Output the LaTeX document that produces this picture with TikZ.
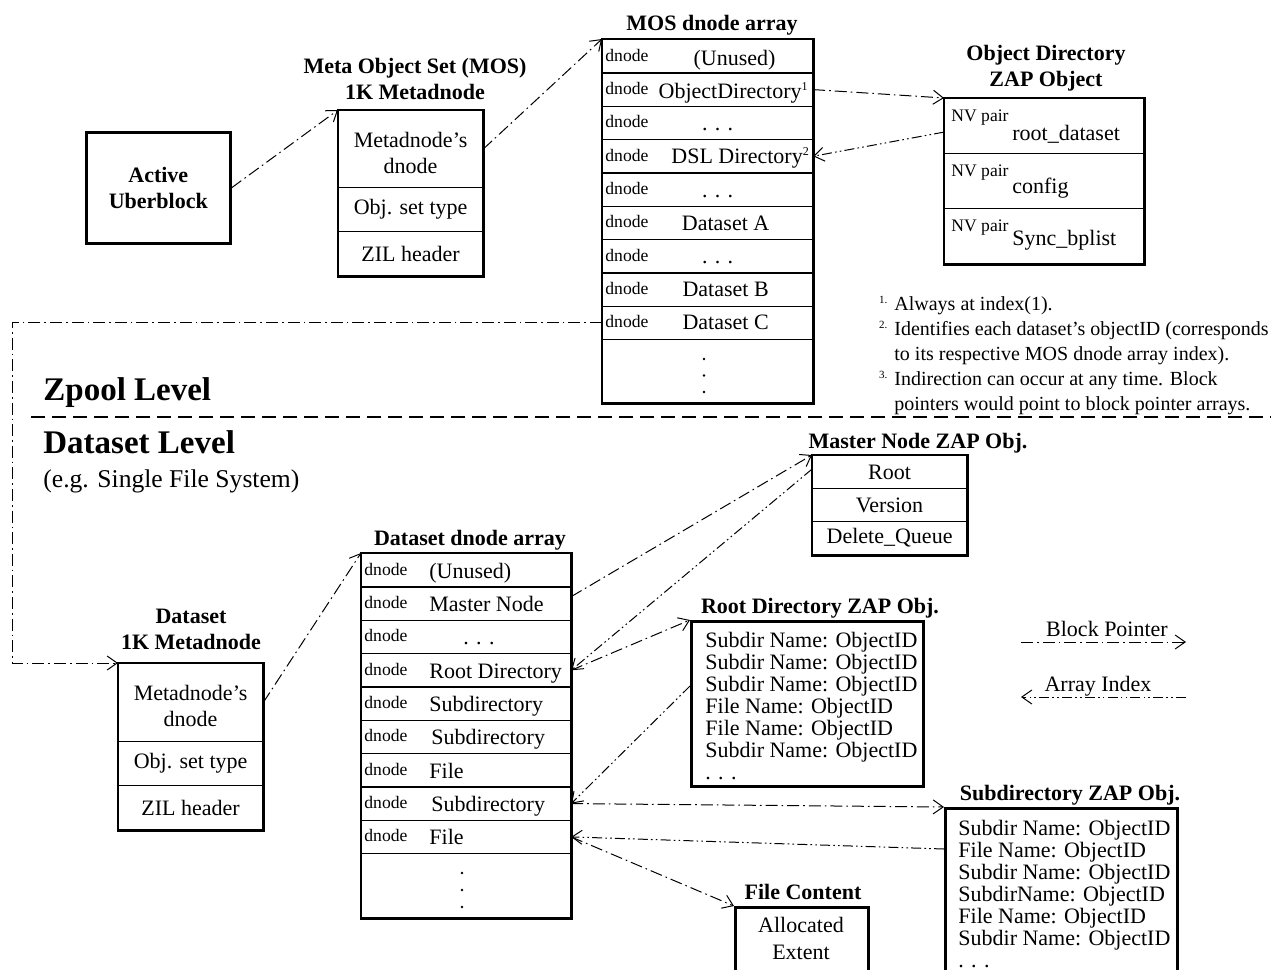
\documentclass[tikz,border=0pt]{standalone}
\usepackage{fontspec}
\setmainfont{Liberation Serif}
\usetikzlibrary{arrows.meta, positioning, calc}

\begin{document}
\begin{tikzpicture}[
  x=0.5pt, y=-0.5pt,
  font=\fontsize{11}{11}\selectfont,
  frame/.style={draw, line width=1.3pt},
  row/.style={draw, line width=0.6pt, anchor=north west, inner sep=0pt},
  ltxt/.style={anchor=base west, inner sep=0pt},
  dn/.style={ltxt, font=\fontsize{8.8}{9}\selectfont},
  txt/.style={anchor=base, inner sep=0pt},
  two/.style={align=center, inner sep=0pt, font=\fontsize{11}{13}\selectfont},
  ttl/.style={font=\fontsize{11}{13}\selectfont\bfseries, align=center, anchor=base, inner sep=0pt},
  lst/.style={align=left, anchor=north west, inner sep=0pt},
  lvl/.style={font=\fontsize{16.5}{18}\selectfont\bfseries, anchor=base west, inner sep=0pt},
  divider/.style={line width=1pt, dash pattern=on 7pt off 3.5pt},
  bptr/.style={line width=0.5pt, dash pattern=on 6pt off 2pt on 0.8pt off 2pt,
    -{Straight Barb[length=5pt, width=7pt]}},
  aidx/.style={line width=0.5pt, dash pattern=on 5pt off 1.6pt on 0.8pt off 1.6pt on 0.8pt off 1.6pt,
    -{Straight Barb[length=5pt, width=7pt]}}
]
  \useasboundingbox (0,0) rectangle (1271,970);
  \clip (0,0) rectangle (1271,970);

  % Zpool level
  \node[frame, anchor=north west, minimum width=72pt, minimum height=55.5pt, align=center,
    font=\fontsize{11}{13}\selectfont\bfseries] (ub) at (85,131) {Active\\Uberblock};

  \node[ttl, anchor=north] (mmt) at (415,58) {Meta Object Set (MOS)\\1K Metadnode};
  \node[row, minimum width=72pt, minimum height=38.5pt] (mmeta1) at (338,110) {};
  \node[two] (mmetat) at ([yshift=-2pt]mmeta1.center) {Metadnode's\\dnode};
  \node[row, minimum width=72pt, minimum height=22pt] (mmeta2) at (338,187) {Obj. set type};
  \node[row, minimum width=72pt, minimum height=22pt] (mmeta3) at (338,231) {ZIL header};
  \draw[frame] (mmeta1.north west) rectangle (mmeta3.south east);

  \node[ttl] (mosat) at (712,30) {MOS dnode array};
  \foreach \i/\dx/\dy/\txt in {1/13.5/4.5/(Unused), 2/13/4.5/ObjectDirectory\textsuperscript{\fontsize{6}{6}\selectfont 1},
      3/5/3.75/. . ., 4/16.5/3.75/DSL Directory\textsuperscript{\fontsize{6}{6}\selectfont 2}, 5/5/3.75/. . .,
      6/9/3.75/Dataset A, 7/5/3.75/. . ., 8/9/3.25/Dataset B, 9/9/3.25/Dataset C} {
    \node[row, minimum width=105pt, minimum height=16.67pt] (mos\i) at (602,{39+(\i-1)*33.33}) {};
    \node[dn] (mosd\i) at ([xshift=1.5pt, yshift=-2.5pt]mos\i.west) {dnode};
    \node[txt] (most\i) at ([xshift=\dx pt, yshift=-\dy pt]mos\i.center) {\txt};
  }
  \node[row, minimum width=105pt, minimum height=31.5pt] (mos10) at (602,339) {};
  \foreach \k in {0,1,2}
    \fill (704,{359+\k*16.5}) circle (0.65pt);
  \draw[frame] (mos1.north west) rectangle (mos10.south east);

  \node[ttl, anchor=north] (odt) at (1046,45) {Object Directory\\ZAP Object};
  \foreach \i/\dy/\val in {1/21/root\_dataset, 2/20/config, 3/18.5/Sync\_bplist} {
    \node[row, minimum width=99.5pt, minimum height=27.5pt] (od\i) at (944,{98+(\i-1)*55}) {};
    \node[dn] (odn\i) at ([xshift=3.5pt, yshift=-11.5pt]od\i.north west) {NV pair};
    \node[ltxt] (odv\i) at ([xshift=34pt, yshift=-\dy pt]od\i.north west) {\val};
  }
  \draw[frame] (od1.north west) rectangle (od3.south east);

  \node[lst, font=\fontsize{10}{12.5}\selectfont] (notes) at (894,296)
    {\llap{\smash{\textsuperscript{\fontsize{5.5}{6}\selectfont 1.}}\hspace{3pt}}Always at index(1).\\
     \llap{\smash{\textsuperscript{\fontsize{5.5}{6}\selectfont 2.}}\hspace{3pt}}Identifies each dataset's objectID (corresponds\\
     to its respective MOS dnode array index).\\
     \llap{\smash{\textsuperscript{\fontsize{5.5}{6}\selectfont 3.}}\hspace{3pt}}Indirection can occur at any time. Block\\
     pointers would point to block pointer arrays.};

  % Levels
  \node[lvl] (zpool) at (43,400) {Zpool Level};
  \coordinate (divl) at (31,417);
  \coordinate (divr) at (1271,417);
  \draw[divider] (divl) -- (divr);
  \node[lvl] (dslvl) at (43,453) {Dataset Level};
  \node[ltxt, font=\fontsize{12.8}{14}\selectfont] (dssub) at (43,487) {(e.g. Single File System)};

  % Dataset level
  \node[ttl, anchor=north] (dmt) at (191,609) {Dataset\\1K Metadnode};
  \node[row, minimum width=72pt, minimum height=39pt] (dmeta1) at (118,663) {};
  \node[two] (dmetat) at ([yshift=-1.5pt]dmeta1.center) {Metadnode's\\dnode};
  \node[row, minimum width=72pt, minimum height=22pt] (dmeta2) at (118,741) {Obj. set type};
  \node[row, minimum width=72pt, minimum height=22pt] (dmeta3) at (118,785) {ZIL header};
  \draw[frame] (dmeta1.north west) rectangle (dmeta3.south east);

  \node[ttl] (dsat) at (470,545) {Dataset dnode array};
  \foreach \i/\dx/\txt in {1/34/(Unused), 2/34/Master Node, 3/51/. . ., 4/34/Root Directory,
      5/34/Subdirectory, 6/35/Subdirectory, 7/34/File, 8/35/Subdirectory, 9/34/File} {
    \node[row, minimum width=104.5pt, minimum height=16.67pt] (ds\i) at (361,{553+(\i-1)*33.33}) {};
    \node[dn] (dsd\i) at ([xshift=1.5pt, yshift=-2.5pt]ds\i.west) {dnode};
    \node[ltxt] (dst\i) at ([xshift=\dx pt, yshift=-4pt]ds\i.west) {\txt};
  }
  \node[row, minimum width=104.5pt, minimum height=32pt] (ds10) at (361,853) {};
  \foreach \k in {0,1,2}
    \fill (462,{873+\k*17}) circle (0.65pt);
  \draw[frame] (ds1.north west) rectangle (ds10.south east);

  \node[ttl] (mzt) at (918,448) {Master Node ZAP Obj.};
  \foreach \i/\txt in {1/Root, 2/Version, 3/Delete\_Queue}
    \node[row, minimum width=77pt, minimum height=16.5pt] (mz\i) at (812,{455+(\i-1)*33}) {\txt};
  \draw[frame] (mz1.north west) rectangle (mz3.south east);

  \node[ttl] (rdzt) at (820,613) {Root Directory ZAP Obj.};
  \node[frame, anchor=north west, minimum width=116pt, minimum height=82.5pt, inner sep=0pt] (rdz) at (690,620) {};
  \node[lst] (rdzl) at (705,632) {Subdir Name: ObjectID\\Subdir Name: ObjectID\\Subdir Name: ObjectID\\
    File Name: ObjectID\\File Name: ObjectID\\Subdir Name: ObjectID\\. . .};

  \node[ttl] (sdzt) at (1070,800) {Subdirectory ZAP Obj.};
  \node[frame, anchor=north west, minimum width=116pt, minimum height=100pt, inner sep=0pt] (sdz) at (944,807) {};
  \node[lst] (sdzl) at (958,820) {Subdir Name: ObjectID\\File Name: ObjectID\\Subdir Name: ObjectID\\
    SubdirName: ObjectID\\File Name: ObjectID\\Subdir Name: ObjectID\\. . .};

  \node[ttl] (fct) at (803,899) {File Content};
  \node[frame, anchor=north west, minimum width=66.5pt, minimum height=50pt, inner sep=0pt] (fc) at (734,906) {};
  \node[txt] (fca) at (801,932) {Allocated};
  \node[txt] (fcb) at (801,959) {Extent};

  % Legend
  \coordinate (bpa) at (1021,642);
  \coordinate (bpb) at (1186,642);
  \draw[bptr] (bpa) -- (bpb);
  \node[txt] (bpl) at (1107,636) {Block Pointer};
  \coordinate (aia) at (1021,697);
  \coordinate (aib) at (1186,697);
  \draw[aidx] (aib) -- (aia);
  \node[txt] (ail) at (1098,691) {Array Index};

  % Arrows
  \coordinate (dsbend) at (12,663);
  \draw[bptr] (ub.east) -- (mmeta1.north west);
  \draw[bptr] (mmeta1.east) -- (mos1.north west);
  \draw[bptr] (mos2.east) -- (od1.north west);
  \draw[aidx] ([yshift=-3pt]od1.west) -- (mos4.east);
  \draw[bptr] (mos9.west) -| (dsbend) -- (dmeta1.north west);
  \draw[bptr] (dmeta1.east) -- (ds1.north west);
  \draw[bptr] ([yshift=3.5pt]ds2.east) -- (mz1.north west);
  \draw[aidx] ([yshift=1.5pt]mz1.west) -- (ds4.east);
  \draw[bptr] (ds4.east) -- (rdz.north west);
  \draw[aidx] ([yshift=-33pt]rdz.north west) -- (ds8.east);
  \draw[bptr] (ds8.east) -- (sdz.north west);
  \draw[aidx] ([yshift=-21pt]sdz.north west) -- (ds9.east);
  \draw[bptr] (ds9.east) -- (fc.north west);

\end{tikzpicture}
\end{document}
